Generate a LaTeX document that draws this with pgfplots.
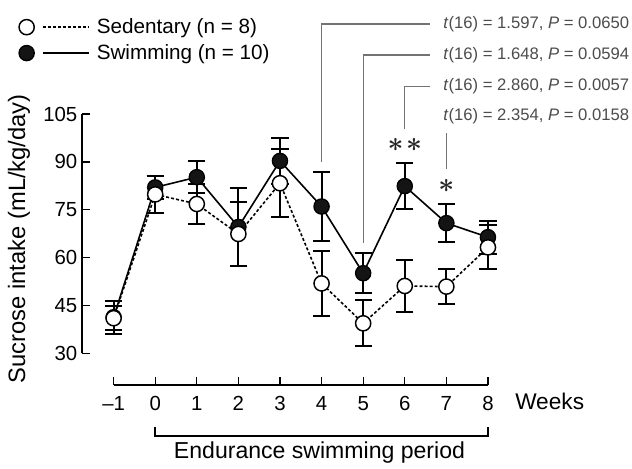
\documentclass[border=0pt]{standalone}
\usepackage{pgfplots}
\pgfplotsset{compat=1.18}
\usepackage{pgfplotstable}
\usepackage{bm}
\usepackage{fontspec}
\setmainfont{Liberation Sans}
\definecolor{annline}{gray}{0.45}
\definecolor{anntext}{gray}{0.3}
\pgfplotstableread{
x y e
-1 41.3 5.2
0 82.0 3.5
1 85.2 5.1
2 69.6 12.1
3 90.3 7.1
4 76.0 10.7
5 55.1 6.2
6 82.4 7.3
7 70.8 6.0
8 66.4 5.2
}\swim
\pgfplotstableread{
x y e
-1 41.0 3.8
0 79.8 5.9
1 76.8 6.4
2 67.4 9.9
3 83.3 10.7
4 51.9 10.2
5 39.4 7.2
6 51.1 8.0
7 50.9 5.4
8 63.2 6.9
}\sed
\begin{document}
\begin{tikzpicture}
\useasboundingbox (-61.5pt,-62.1pt) rectangle (412.5pt,288.9pt);
\begin{axis}[
  scale only axis, width=310.7pt, height=203.4pt,
  at={(0,0)}, anchor=south west,
  xmin=-1.76, xmax=8.2, ymin=20, ymax=105,
  axis lines=left, axis line style={draw=none},
  tick align=inside, major tick length=5.8pt,
  tick style={black, line width=1pt},
  xtick={-1,0,...,8}, xticklabels={\textendash1,0,1,2,3,4,5,6,7,8},
  ytick={30,45,60,75,90,105},
  /pgf/number format/assume math mode=true,
  tick label style={font=\fontsize{15.3}{17}\selectfont},
  xticklabel style={anchor=base, yshift=-18.6pt},
  ylabel={Sucrose intake (mL/kg/day)},
  ylabel style={font=\fontsize{17.8}{20}\selectfont, at={(ticklabel cs:0.54,3pt)}},
  clip=false,
  reverse legend,
  legend style={draw=none, fill=none, at={(axis cs:-3.28,135.8)}, anchor=north west,
    font=\fontsize{15.5}{18}\selectfont, row sep=2.7pt, inner sep=0pt,
    /tikz/every odd column/.append style={column sep=3pt}},
  legend cell align=left,
  legend image code/.code={
    \draw[#1, mark=none] (12pt,0pt) -- (47pt,0pt);
    \draw[#1, only marks] plot coordinates {(0pt,0pt)};
  },
]
\addplot[black, line width=1.2pt, mark=*, mark size=5.7pt,
  mark options={solid, fill=black!92, line width=1pt},
  error bars/.cd, y dir=both, y explicit,
  error bar style={line width=1.5pt, solid},
  error mark options={rotate=90, mark size=6.5pt, line width=1.5pt, solid}]
  table[x=x, y=y, y error=e] {\swim};
\addlegendentry{Swimming (n = 10)}
\addplot[black, line width=1.2pt, dash pattern=on 2.2pt off 1.6pt, mark=*, mark size=5.7pt,
  mark options={solid, fill=white, line width=1.1pt},
  error bars/.cd, y dir=both, y explicit,
  error bar style={line width=1.5pt, solid},
  error mark options={rotate=90, mark size=6.5pt, line width=1.5pt, solid}]
  table[x=x, y=y, y error=e] {\sed};
\addlegendentry{Sedentary (n = 8)}
% axis lines
\draw[line width=1.1pt] (axis cs:-1,20) -- (axis cs:8,20);
\draw[line width=1.1pt] (axis cs:-1.76,30) -- (axis cs:-1.76,105);
% bracket
\draw[line width=1.1pt] (axis cs:0,6.9) -- (axis cs:0,4.07) -- (axis cs:8,4.07) -- (axis cs:8,6.9);
\node[anchor=base, font=\fontsize{17.3}{20}\selectfont] at (axis cs:3.95,-3.1) {Endurance swimming period};
\node[anchor=base west, inner sep=0pt, font=\fontsize{17}{20}\selectfont] at (axis cs:8.65,12.4) {Weeks};
% annotations
\draw[annline, line width=1pt] (axis cs:4,90.0) |- (axis cs:6.61,133.2);
\draw[annline, line width=1pt] (axis cs:5,64.5) |- (axis cs:6.61,123.5);
\draw[annline, line width=1pt] (axis cs:6,100.3) |- (axis cs:6.61,113.6);
\draw[annline, line width=1pt] (axis cs:7,87.7) -- (axis cs:7,99.1);
\begin{scope}[every node/.style={anchor=west, inner sep=0pt, text=anntext, font=\fontsize{12.5}{14}\selectfont}]
\node at (axis cs:6.92,133.2) {\textit{t}(16) = 1.597, \textit{P} = 0.0650};
\node at (axis cs:6.92,123.5) {\textit{t}(16) = 1.648, \textit{P} = 0.0594};
\node at (axis cs:6.92,113.6) {\textit{t}(16) = 2.860, \textit{P} = 0.0057};
\node at (axis cs:6.92,104.2) {\textit{t}(16) = 2.354, \textit{P} = 0.0158};
\end{scope}
\node[inner sep=0pt, text=black!85, font=\fontsize{22}{22}\selectfont] at (axis cs:6,95.3) {$\bm{\ast}$\hspace{2pt}$\bm{\ast}$};
\node[inner sep=0pt, text=black!85, font=\fontsize{22}{22}\selectfont] at (axis cs:7,82.4) {$\bm{\ast}$};
\end{axis}
\end{tikzpicture}
\end{document}
